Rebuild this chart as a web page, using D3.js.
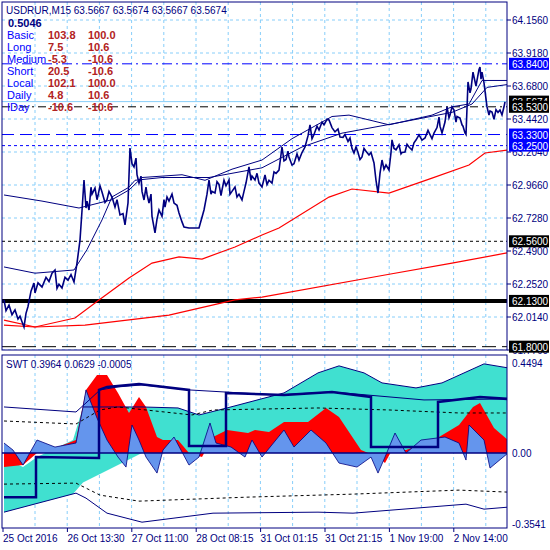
<!DOCTYPE html>
<html><head><meta charset="utf-8">
<script src="https://cdn.jsdelivr.net/npm/d3@7"></script>
<style>body{margin:0;background:#fff}text{font-family:"Liberation Sans",Arial,sans-serif}</style>
</head><body><svg id="c" width="550" height="550"></svg>
<script>
// ---------- data ----------
const header = "USDRUR,M15  63.5667 63.5674 63.5667 63.5674";
const infoValue = "0.5046";
const infoNames = ["Basic","Long","Medium","Short","Local","Daily","IDay"];
const infoA = ["103.8","7.5","-5.3","20.5","102.1","4.8","-10.6"];
const infoB = ["100.0","10.6","-10.6","-10.6","100.0","10.6","-10.6"];
const dateLabels = ["25 Oct 2016","26 Oct 13:30","27 Oct 11:00","28 Oct 08:15","31 Oct 01:15","31 Oct 21:15","1 Nov 19:00","2 Nov 14:00"];
const priceTicks = [64.1560,63.9180,63.6800,63.4420,63.2040,62.9660,62.7280,62.4900,62.2520,62.0140,61.7760];
const levels = [
 {v:63.84,c:"#0000ff",d:"10,4,2,4",w:1,box:"#0000ff"},
 {v:63.5674,c:"#87cefa",d:null,w:1,box:"#000"},
 {v:63.53,c:"#000",d:"8,4,2,4",w:1,box:"#000"},
 {v:63.33,c:"#0000ff",d:"12,6",w:1,box:"#0000ff"},
 {v:63.25,c:"#0000ff",d:"3,3",w:1,box:"#0000ff"},
 {v:62.56,c:"#000",d:"3,3",w:1,box:"#000"},
 {v:62.13,c:"#000",d:null,w:4,box:"#000"},
 {v:61.80,c:"#000",d:"14,6",w:1,box:"#000"}];
const price = [[2,62.137],[4,62.06],[7,62.100],[10,62.03],[13,62.065],[16,62.0],[18,62.02],[20,61.98],[22,61.942],[24,62.04],[26,62.09],[29,62.2],[32,62.259],[33,62.187],[36,62.26],[40,62.23],[44,62.3],[47,62.27],[50,62.33],[53,62.353],[55,62.22],[57,62.25],[60,62.223],[63,62.3],[66,62.28],[69,62.32],[72,62.266],[75,62.403],[78,62.569],[80,62.78],[82,63.002],[84,62.8],[85,62.85],[87,62.786],[89,62.95],[90,62.9],[93,62.944],[95,62.86],[96,62.89],[98,62.96],[100,62.915],[103,62.84],[105,62.86],[107,62.92],[110,62.879],[113,62.807],[115,62.86],[118,62.750],[121,62.76],[123,62.678],[126,62.836],[128,63.233],[130,63.12],[132,63.096],[134,63.16],[135,63.04],[137,62.980],[139,63.03],[140,62.92],[142,62.858],[144,62.95],[145,62.9],[147,62.836],[149,62.9],[150,62.74],[153,62.620],[155,62.72],[157,62.786],[160,62.74],[162,62.86],[163,62.807],[165,62.88],[167,62.85],[170,62.9],[172,62.836],[175,62.82],[177,62.764],[180,62.7],[182,62.663],[187,62.656],[197,62.656],[202,62.786],[205,62.9],[207,63.002],[209,62.9],[210,62.92],[213,62.908],[215,62.99],[217,62.97],[219,62.89],[220,62.930],[222,63.0],[224,62.96],[227,63.002],[228,62.9],[230,62.92],[233,62.952],[235,62.88],[237,62.9],[240,62.858],[242,62.92],[244,62.98],[247,63.096],[249,63.0],[250,63.03],[253,63.002],[255,63.05],[257,62.98],[260,62.952],[263,63.038],[265,62.97],[267,63.0],[270,62.98],[272,63.06],[274,63.05],[277,63.074],[280,63.240],[282,63.14],[284,63.15],[286,63.21],[287,63.168],[290,63.11],[292,63.12],[295,63.19],[297,63.146],[300,63.2],[303,63.240],[306,63.32],[308,63.399],[310,63.3],[312,63.33],[315,63.39],[317,63.363],[320,63.42],[322,63.4],[325,63.44],[327,63.435],[330,63.38],[333,63.349],[336,63.37],[338,63.312],[341,63.31],[343,63.33],[346,63.28],[348,63.305],[350,63.23],[352,63.197],[354,63.24],[356,63.2],[358,63.15],[360,63.168],[362,63.23],[364,63.21],[367,63.182],[369,63.2],[372,63.125],[374,63.0],[376,62.908],[378,63.05],[380,63.146],[382,63.08],[384,63.11],[387,63.074],[389,63.2],[390,63.291],[392,63.23],[394,63.22],[397,63.255],[399,63.19],[400,63.2],[403,63.204],[405,63.26],[407,63.24],[410,63.218],[412,63.27],[414,63.29],[417,63.327],[420,63.29],[423,63.305],[426,63.36],[428,63.33],[430,63.3],[432,63.341],[435,63.38],[437,63.456],[438,63.39],[440,63.341],[443,63.42],[445,63.529],[447,63.45],[448,63.47],[450,63.53],[452,63.507],[454,63.42],[455,63.46],[458,63.449],[460,63.4],[461,63.39],[463,63.341],[464,63.33],[466,63.709],[468,63.63],[469,63.66],[471,63.78],[472,63.745],[474,63.68],[475,63.72],[477,63.8],[478,63.817],[479,63.73],[480,63.78],[482,63.702],[485,63.529],[487,63.47],[488,63.5],[490,63.492],[492,63.44],[494,63.51],[496,63.49],[498,63.507],[500,63.471],[502,63.53],[503,63.565]];
const maSlow = [[2,62.894],[40,62.85],[77,62.80],[110,62.86],[127,62.93],[140,63.02],[180,63.04],[203,63.00],[230,63.08],[260,63.146],[290,63.30],[330,63.46],[347,63.47],[370,63.43],[387,63.40],[430,63.47],[450,63.53],[467,63.55],[480,63.72],[505,63.72]];
const maFast = [[2,62.375],[33,62.33],[72,62.353],[85,62.50],[100,62.714],[110,62.88],[127,62.95],[133,63.00],[160,63.02],[207,63.02],[260,63.09],[300,63.24],[340,63.34],[400,63.42],[450,63.49],[470,63.55],[485,63.67],[505,63.69]];
const redUpper = [[2,61.992],[33,61.942],[73,62.007],[97,62.137],[127,62.295],[150,62.403],[177,62.447],[200,62.432],[233,62.519],[260,62.605],[277,62.656],[327,62.879],[350,62.937],[387,62.908],[430,63.016],[467,63.110],[483,63.197],[505,63.218]];
const redLower = [[2,61.956],[33,61.942],[83,61.956],[167,62.028],[233,62.137],[260,62.158],[383,62.317],[450,62.403],[505,62.476]];
const swtHeader = "SWT 0.3964 0.0629 -0.0005";
const swtTicks = [["0.4494",0.4494],["0.00",0],["-0.3541",-0.3541]];
const cyanTop = [[2,-0.025],[21,-0.07],[35,-0.02],[71,0.065],[81,0.23],[140,0.23],[176,0.225],[197,0.19],[225,0.225],[282,0.30],[316,0.40],[337,0.435],[362,0.40],[380,0.35],[414,0.325],[440,0.35],[482,0.445],[506,0.425]];
const cyanBot = [[2,-0.295],[74,-0.20],[98,-0.02],[105,0],[506,0]];
const redOsc = [[2,-0.07],[21,-0.06],[35,0],[56,0.03],[74,0.065],[84,0.315],[95,0.39],[105,0.39],[116,0.30],[127,0.20],[137,0.28],[144,0.23],[155,0.08],[161,0.065],[176,0.065],[187,0],[200,-0.02],[211,0.08],[225,0.115],[246,0.10],[253,0.115],[267,0.105],[282,0.155],[306,0.155],[324,0.225],[337,0.18],[359,0.015],[376,-0.02],[383,-0.05],[390,0.015],[404,0.015],[432,0.065],[457,0.14],[471,0.23],[478,0.25],[492,0.125],[506,0.065]];
const blueOsc = [[2,0.05],[11,0.015],[21,-0.06],[35,0.065],[53,0.03],[74,0.05],[81,0.23],[84,0.315],[95,0.175],[105,0.065],[116,-0.02],[124,-0.07],[130,0.14],[137,0.065],[144,-0.02],[155,-0.10],[161,0.015],[172,0.08],[187,-0.06],[197,-0.02],[208,0.15],[214,0.05],[229,0.03],[243,-0.02],[250,0.065],[260,-0.02],[282,0.115],[292,0.03],[309,0.115],[324,0.05],[337,-0.05],[355,-0.07],[369,-0.02],[376,-0.10],[383,-0.02],[393,0.10],[404,0],[419,0.065],[443,0.08],[457,0.05],[464,-0.035],[467,0.14],[482,0.065],[488,-0.075],[506,0]];
const stepLine = [[2,-0.22],[34,-0.22],[34,-0.02],[97,-0.025],[97,0.315],[105,0.33],[137,0.345],[187,0.315],[187,0.035],[224,0.035],[224,0.30],[282,0.29],[330,0.305],[369,0.28],[369,0.03],[436,0.03],[436,0.255],[478,0.28],[506,0.27]];
const thinUpper = [[2,0.23],[74,0.205],[84,0.25],[98,0.315],[116,0.33],[140,0.34],[187,0.315],[274,0.29],[330,0.305],[422,0.265],[506,0.27]];
const dashUpper = [[2,0.16],[74,0.145],[98,0.215],[116,0.23],[190,0.19],[211,0.215],[316,0.225],[387,0.215],[457,0.20],[506,0.20]];
const dashLower = [[2,-0.155],[74,-0.15],[98,-0.21],[137,-0.24],[246,-0.22],[351,-0.205],[457,-0.185],[506,-0.195]];
const thinLower = [[2,-0.295],[74,-0.20],[84,-0.225],[105,-0.30],[140,-0.345],[211,-0.30],[316,-0.295],[351,-0.30],[464,-0.255],[482,-0.28],[506,-0.27]];

// ---------- drawing ----------
const svg = d3.select("#c");
const L=2, R=507, mT=2, mB=350, sT=355, sB=528;
const x = d3.scaleLinear().domain([0,505]).range([L,L+505]);
const y = d3.scaleLinear().domain([64.156,61.776]).range([20,350]);
const ys = d3.scaleLinear().domain([0.4494,-0.3541]).range([363,524]);
const navy="#000080", grid="#87cefa", FS=10;
svg.append("rect").attr("width",550).attr("height",550).attr("fill","#fff");
svg.append("clipPath").attr("id","cm").append("rect").attr("x",L).attr("y",mT).attr("width",R-L).attr("height",mB-mT);
svg.append("clipPath").attr("id","cs").append("rect").attr("x",L).attr("y",sT).attr("width",R-L).attr("height",sB-sT);
const gm = svg.append("g").attr("clip-path","url(#cm)");
const gs = svg.append("g").attr("clip-path","url(#cs)");
const vg = d3.range(0,15).map(i=>33+i*32.2);
[[gm,mT,mB],[gs,sT,sB]].forEach(([g,a,b])=>{
  g.selectAll(null).data(vg).join("line").attr("x1",d=>x(d)).attr("x2",d=>x(d)).attr("y1",a).attr("y2",b)
   .attr("stroke",grid).attr("stroke-dasharray","3,3");
});
gm.selectAll(null).data(priceTicks).join("line").attr("x1",L).attr("x2",R).attr("y1",d=>y(d)).attr("y2",d=>y(d))
  .attr("stroke",grid).attr("stroke-dasharray","3,3");
gm.selectAll(null).data(levels).join("line").attr("x1",L).attr("x2",R).attr("y1",d=>y(d.v)).attr("y2",d=>y(d.v))
  .attr("stroke",d=>d.c).attr("stroke-width",d=>d.w).attr("stroke-dasharray",d=>d.d);
const ln = d3.line().x(d=>x(d[0])).y(d=>y(d[1]));
const lns = d3.line().x(d=>x(d[0])).y(d=>ys(d[1]));
[redUpper,redLower].forEach(d=>gm.append("path").attr("d",ln(d)).attr("fill","none").attr("stroke","#ff0000").attr("stroke-width",1.2));
[maSlow,maFast].forEach(d=>gm.append("path").attr("d",ln(d)).attr("fill","none").attr("stroke",navy).attr("stroke-width",1));
gm.append("path").attr("d",ln(price)).attr("fill","none").attr("stroke",navy).attr("stroke-width",1.6);
const area = (top,bot)=>d3.area().x(d=>x(d[0])).y0(d=>ys(bot(d[0]))).y1(d=>ys(d[1]))(top);
const interp = arr=>xx=>{for(let i=1;i<arr.length;i++){if(xx<=arr[i][0]){const a=arr[i-1],b=arr[i];return a[1]+(b[1]-a[1])*(xx-a[0])/(b[0]-a[0]||1);}}return arr[arr.length-1][1];};
gs.append("path").attr("d",area(cyanTop,interp(cyanBot))).attr("fill","#40e0d0");
gs.append("path").attr("d",area(redOsc,()=>0)).attr("fill","#ff0000");
gs.append("path").attr("d",area(blueOsc,()=>0)).attr("fill","#6495ed");
gs.append("path").attr("d",lns(blueOsc)).attr("fill","none").attr("stroke",navy).attr("stroke-width",0.8);
gs.append("path").attr("d",lns(cyanTop.filter(d=>d[0]>=81))).attr("fill","none").attr("stroke",navy).attr("stroke-width",1);
gs.append("path").attr("d",lns(thinLower)).attr("fill","none").attr("stroke",navy).attr("stroke-width",1);
gs.append("path").attr("d",lns(thinUpper)).attr("fill","none").attr("stroke",navy).attr("stroke-width",1);
gs.append("path").attr("d",lns(dashUpper)).attr("fill","none").attr("stroke","#000").attr("stroke-dasharray","3,3");
gs.append("path").attr("d",lns(dashLower)).attr("fill","none").attr("stroke","#000").attr("stroke-dasharray","3,3");
gs.append("line").attr("x1",L).attr("x2",R).attr("y1",ys(0)).attr("y2",ys(0)).attr("stroke",navy).attr("stroke-width",1.5);
gs.append("path").attr("d",lns(stepLine)).attr("fill","none").attr("stroke",navy).attr("stroke-width",2.5);
svg.append("rect").attr("x",L).attr("y",mT).attr("width",R-L).attr("height",mB-mT).attr("fill","none").attr("stroke",navy);
svg.append("rect").attr("x",L).attr("y",sT).attr("width",R-L).attr("height",sB-sT).attr("fill","none").attr("stroke",navy);
// price axis: plain ticks drawn first, level boxes over them
svg.selectAll(null).data(priceTicks).join("text").attr("x",512).attr("y",d=>y(d)+4).attr("font-size",FS).attr("fill",navy).text(d=>d.toFixed(4));
svg.selectAll(null).data(priceTicks).join("line").attr("x1",R).attr("x2",R+4).attr("y1",d=>y(d)).attr("y2",d=>y(d)).attr("stroke",navy);
levels.forEach(l=>{
  svg.append("rect").attr("x",509).attr("y",y(l.v)-6).attr("width",40).attr("height",12).attr("fill",l.box);
  svg.append("text").attr("x",512).attr("y",y(l.v)+4).attr("font-size",FS).attr("fill","#fff").text(l.v.toFixed(4));
});
svg.selectAll(null).data(swtTicks).join("text").attr("x",512).attr("y",d=>ys(d[1])+4).attr("font-size",FS).attr("fill",navy).text(d=>d[0]);
svg.selectAll(null).data(dateLabels).join("text").attr("x",(d,i)=>x(1+i*64.4)).attr("y",542).attr("font-size",FS).attr("fill",navy).text(d=>d);
svg.selectAll(null).data(dateLabels).join("line").attr("x1",(d,i)=>x(1+i*64.4)).attr("x2",(d,i)=>x(1+i*64.4)).attr("y1",sB).attr("y2",sB+4).attr("stroke",navy);
svg.append("text").attr("x",6).attr("y",14).attr("font-size",FS).attr("fill",navy).text(header);
svg.append("text").attr("x",8).attr("y",27).attr("font-size",11).attr("font-weight","bold").attr("fill",navy).text(infoValue);
infoNames.forEach((n,i)=>{
  const yy=39+i*12;
  svg.append("text").attr("x",7).attr("y",yy).attr("font-size",11).attr("fill","#0000ff").text(n);
  svg.append("text").attr("x",48).attr("y",yy).attr("font-size",11).attr("font-weight","bold").attr("fill","#b22222").text(infoA[i]);
  svg.append("text").attr("x",88).attr("y",yy).attr("font-size",11).attr("font-weight","bold").attr("fill","#b22222").text(infoB[i]);
});
svg.append("text").attr("x",6).attr("y",368).attr("font-size",FS).attr("fill",navy).text(swtHeader);
</script></body></html>
